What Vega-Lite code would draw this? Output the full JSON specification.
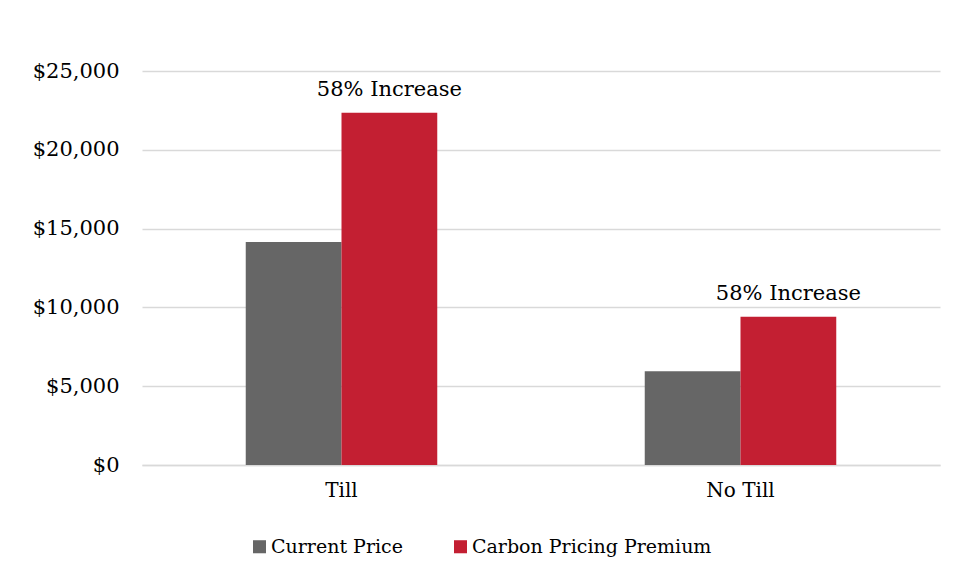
{
  "$schema": "https://vega.github.io/schema/vega-lite/v6.json",
  "width": 798,
  "height": 394,
  "autosize": "none",
  "padding": {"left": 142, "top": 71, "right": 16, "bottom": 115},
  "background": "white",
  "config": {
    "font": "DejaVu Serif",
    "view": {"stroke": null},
    "axis": {"labelFont": "DejaVu Serif", "labelColor": "#000000"},
    "legend": {"labelFont": "DejaVu Serif", "labelColor": "#000000"}
  },
  "data": {
    "values": [
      {"practice": "Till", "series": "Current Price", "value": 14150, "label": ""},
      {"practice": "Till", "series": "Carbon Pricing Premium", "value": 22350, "label": "58% Increase"},
      {"practice": "No Till", "series": "Current Price", "value": 5950, "label": ""},
      {"practice": "No Till", "series": "Carbon Pricing Premium", "value": 9400, "label": "58% Increase"}
    ]
  },
  "encoding": {
    "x": {
      "field": "practice",
      "type": "nominal",
      "sort": ["Till", "No Till"],
      "scale": {"paddingInner": 0.52, "paddingOuter": 0.26},
      "axis": {"title": null, "labelAngle": 0, "ticks": false, "domain": true, "domainColor": "#d9d9d9", "domainWidth": 1.5, "labelFontSize": 20, "labelPadding": 15}
    },
    "xOffset": {
      "field": "series",
      "type": "nominal",
      "sort": ["Current Price", "Carbon Pricing Premium"],
      "scale": {"paddingInner": 0, "paddingOuter": 0}
    },
    "y": {
      "field": "value",
      "type": "quantitative",
      "scale": {"domain": [0, 25000], "nice": false},
      "axis": {"title": null, "format": "$,.0f", "values": [0, 5000, 10000, 15000, 20000, 25000], "labelOverlap": false, "domain": false, "ticks": false, "grid": true, "gridColor": "#d9d9d9", "gridWidth": 1.5, "labelFontSize": 21, "labelPadding": 23}
    }
  },
  "layer": [
    {
      "mark": {"type": "bar"},
      "encoding": {
        "color": {
          "field": "series",
          "type": "nominal",
          "scale": {"domain": ["Current Price", "Carbon Pricing Premium"], "range": ["#666666", "#C31F32"]},
          "legend": {"title": null, "orient": "none", "legendX": 108, "legendY": 466, "direction": "horizontal", "symbolType": "square", "symbolSize": 170, "symbolStrokeWidth": 0, "labelFontSize": 19, "labelLimit": 400, "columnPadding": 48, "labelOffset": 2}
        }
      }
    },
    {
      "mark": {"type": "text", "baseline": "bottom", "dy": -13, "fontSize": 21, "color": "#000000"},
      "encoding": {
        "text": {"field": "label"}
      }
    }
  ]
}
